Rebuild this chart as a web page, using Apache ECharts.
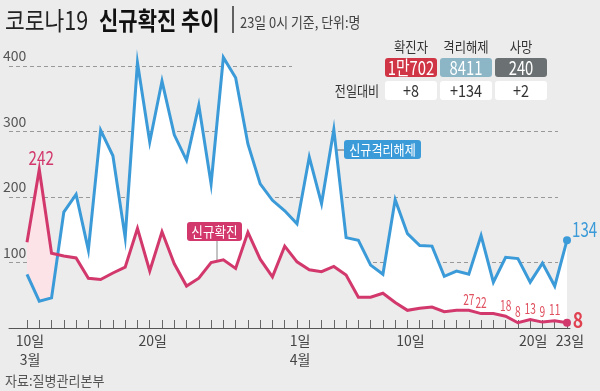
<!DOCTYPE html>
<html><head><meta charset="utf-8">
<script src="https://cdn.jsdelivr.net/npm/echarts@6/dist/echarts.min.js"></script>
<style>html,body{margin:0;padding:0;background:#ececec;}#c{width:600px;height:391px;}</style>
</head><body><div id="c"></div>
<script>
const dates = ['3/10','3/11','3/12','3/13','3/14','3/15','3/16','3/17','3/18','3/19','3/20','3/21','3/22','3/23','3/24','3/25','3/26','3/27','3/28','3/29','3/30','3/31',
  '4/1','4/2','4/3','4/4','4/5','4/6','4/7','4/8','4/9','4/10','4/11','4/12','4/13','4/14','4/15','4/16','4/17','4/18','4/19','4/20','4/21','4/22','4/23'];
const confirmed = [131,242,114,110,107,76,74,84,93,152,87,147,98,64,76,100,104,91,146,105,78,125,
  101,89,86,94,81,47,47,53,39,27,30,32,25,27,27,22,22,18,8,13,9,11,8];
const released = [82,41,46,177,204,119,302,263,138,405,284,377,295,256,340,220,413,382,281,220,195,179,
  159,261,190,303,138,134,96,82,196,144,126,125,79,87,82,141,70,108,106,70,99,64,134];
const yTicks = [0,100,200,300,400];
const xTickDays = [0,10,22,31,41,44];
const xTickLabels = ['10일\n3월','20일','1일\n4월','10일','20일','23일'];
const smallLabeled = [36,37,39,40,41,42,43];
const peakLabeled = 1;
const tableHeads = ['확진자','격리해제','사망'];
const tableTotals = ['1만702','8411','240'];
const tableDeltas = ['+8','+134','+2'];

const BG = '#ececec', RED = '#d2386c', BLUE = '#3b9ad8', LRED = '#e0505f';
const KR = "'Noto Sans CJK KR',sans-serif";
const LAST = dates.length - 1;

const minEnv = [];
for (let i = 0; i < dates.length; i++) {
  minEnv.push([i, Math.min(confirmed[i], released[i])]);
  if (i < LAST) {
    const d0 = confirmed[i] - released[i], d1 = confirmed[i+1] - released[i+1];
    if (d0 * d1 < 0) {
      const t = d0 / (d0 - d1);
      minEnv.push([i + t, confirmed[i] + t * (confirmed[i+1] - confirmed[i])]);
    }
  }
}
const redPts = confirmed.map((v, i) => [i, v]);
const bluePts = released.map((v, i) => [i, v]);
const redLineData = confirmed.map((v, i) => i === LAST ? { value: [i, v], symbol: 'circle', symbolSize: 8 } : [i, v]);
const blueLineData = released.map((v, i) => i === LAST ? { value: [i, v], symbol: 'circle', symbolSize: 8 } : [i, v]);

const tickMap = {};
xTickDays.forEach((d, k) => tickMap[d] = xTickLabels[k]);

const chart = echarts.init(document.getElementById('c'), null, { renderer: 'canvas' });

function txt(text, x, y, font, fill, align, sx, z) {
  return { type: 'text', x: x, y: y, scaleX: sx || 1, z: z || 10,
    style: { text: text, x: 0, y: 0, font: font, fill: fill, align: align || 'center', textAlign: align || 'center',
      verticalAlign: 'middle', textVerticalAlign: 'middle' } };
}

const option = {
  backgroundColor: BG,
  animation: false,
  grid: [
    { left: 27, right: 33, top: 66, bottom: 63 },
    { left: 9, right: 42, top: 66, bottom: 63 },
    { left: 9, right: 30, top: 66, bottom: 63 }
  ],
  xAxis: [
    { gridIndex: 0, type: 'value', min: 0, max: LAST, interval: 1, z: 10,
      axisLine: { show: true, lineStyle: { color: '#555', width: 1 } }, splitLine: { show: false },
      axisTick: { show: true, inside: true, length: 8, lineStyle: { color: '#666', width: 1 } },
      axisLabel: { show: true, margin: 3, color: '#444', fontSize: 14, lineHeight: 19, fontFamily: KR,
        padding: [0, 0, 0, 6], formatter: v => tickMap[v] || '' } },
    { gridIndex: 1, type: 'value', min: 0, max: 1, show: false },
    { gridIndex: 2, type: 'value', min: 0, max: 1, z: 10, axisLine: { show: true, lineStyle: { color: '#555', width: 1 } },
      axisTick: { show: false }, axisLabel: { show: false }, splitLine: { show: false } }
  ],
  yAxis: [
    { gridIndex: 0, type: 'value', min: 0, max: 400, interval: 100, show: false },
    { gridIndex: 1, type: 'value', min: yTicks[0], max: yTicks[yTicks.length - 1], interval: 100,
      axisLine: { show: false }, axisTick: { show: false },
      splitLine: { show: true, lineStyle: { color: '#999', type: [4, 3], width: 1 } },
      axisLabel: { inside: true, margin: -6, color: '#555', fontSize: 14, fontFamily: KR,
        verticalAlign: 'bottom', lineHeight: 14, padding: [0, 0, 3, 0], showMinLabel: false,
        formatter: v => (v === 0 ? '' : String(v)) } },
    { gridIndex: 2, type: 'value', min: 0, max: 1, show: false }
  ],
  series: [
    { type: 'line', data: redPts, symbol: 'none', clip: false, z: 2,
      lineStyle: { width: 0 }, areaStyle: { color: '#fbe3e8', opacity: 1 }, silent: true },
    { type: 'line', data: bluePts, symbol: 'none', clip: false, z: 3,
      lineStyle: { width: 0 }, areaStyle: { color: '#ffffff', opacity: 1 }, silent: true },
    { type: 'line', data: minEnv, symbol: 'none', clip: false, z: 4,
      lineStyle: { width: 0 }, areaStyle: { color: BG, opacity: 1 }, silent: true },
    { type: 'line', data: blueLineData, symbol: 'none', showSymbol: true, clip: false, z: 15,
      lineStyle: { color: BLUE, width: 3, join: 'miter' }, itemStyle: { color: BLUE } },
    { type: 'line', data: redLineData, symbol: 'none', showSymbol: true, clip: false, z: 16,
      lineStyle: { color: RED, width: 3, join: 'miter' }, itemStyle: { color: RED } }
  ]
};
chart.setOption(option);

const P = (i, v) => chart.convertToPixel({ xAxisIndex: 0, yAxisIndex: 0 }, [i, v]);
const boxX = [385, 440, 495], boxW = 52;
const totalColors = ['#cf3545', '#8cb5c6', '#6b7073'];
const graphics = [
  { type: 'rect', z: 1, shape: { x: 292, y: 60, width: 308, height: 12 }, style: { fill: BG } },
  txt('코로나19', 5, 20, '25px ' + KR, '#222', 'left', 0.86),
  txt('신규확진 추이', 99, 20, 'bold 25px ' + KR, '#111', 'left', 0.84),
  { type: 'line', z: 10, shape: { x1: 233, y1: 6, x2: 233, y2: 33 }, style: { stroke: '#333', lineWidth: 1.5 } },
  txt('23일 0시 기준, 단위:명', 240, 22, '15px ' + KR, '#444', 'left', 0.86),
  txt('자료:질병관리본부', 5, 381, '14px ' + KR, '#555', 'left', 0.93),
  txt('전일대비', 357, 91, '14px ' + KR, '#333', 'center', 0.86)
];
tableHeads.forEach((h, k) => {
  const cx = boxX[k] + boxW / 2;
  graphics.push(txt(h, cx, 47, '14px ' + KR, '#333', 'center', 0.88));
  graphics.push({ type: 'rect', z: 10, shape: { x: boxX[k], y: 58, width: boxW, height: 19, r: 3 }, style: { fill: totalColors[k] } });
  graphics.push(txt(tableTotals[k], cx, 68, '19px ' + KR, '#fff', 'center', 0.78, 11));
  graphics.push({ type: 'rect', z: 10, shape: { x: boxX[k], y: 81, width: boxW, height: 19, r: 3 }, style: { fill: '#fff' } });
  graphics.push(txt(tableDeltas[k], cx, 91, '17px ' + KR, '#333', 'center', 0.85, 11));
});
graphics.push({ type: 'line', z: 10, shape: { x1: 217, y1: 240, x2: 217, y2: 261 }, style: { stroke: '#888', lineWidth: 1 } });
graphics.push({ type: 'rect', z: 10, shape: { x: 187, y: 222, width: 55, height: 19, r: 3 }, style: { fill: RED } });
graphics.push(txt('신규확진', 214.5, 231.5, '14px ' + KR, '#fff', 'center', 0.9, 11));
graphics.push({ type: 'line', z: 10, shape: { x1: 336, y1: 150, x2: 344, y2: 150 }, style: { stroke: '#666', lineWidth: 1 } });
graphics.push({ type: 'rect', z: 10, shape: { x: 344, y: 140, width: 77, height: 19, r: 3 }, style: { fill: BLUE } });
graphics.push(txt('신규격리해제', 382.5, 149.5, '14px ' + KR, '#fff', 'center', 0.86, 11));

let p = P(peakLabeled, confirmed[peakLabeled]);
graphics.push(txt(String(confirmed[peakLabeled]), p[0] + 2, p[1] - 12, '19px ' + KR, RED, 'center', 0.8, 12));
smallLabeled.forEach(i => {
  const q = P(i, confirmed[i]);
  graphics.push(txt(String(confirmed[i]), q[0], q[1] - 11, '15px ' + KR, LRED, 'center', 0.68, 12));
});
p = P(LAST, confirmed[LAST]);
graphics.push(txt(String(confirmed[LAST]), p[0] + 11, p[1] - 3, 'bold 22px ' + KR, '#e0404f', 'center', 0.8, 12));
p = P(LAST, released[LAST]);
graphics.push(txt(String(released[LAST]), p[0] + 5, p[1] - 11, '21px ' + KR, BLUE, 'left', 0.72, 12));

chart.setOption({ graphic: { elements: graphics } });
</script></body></html>
